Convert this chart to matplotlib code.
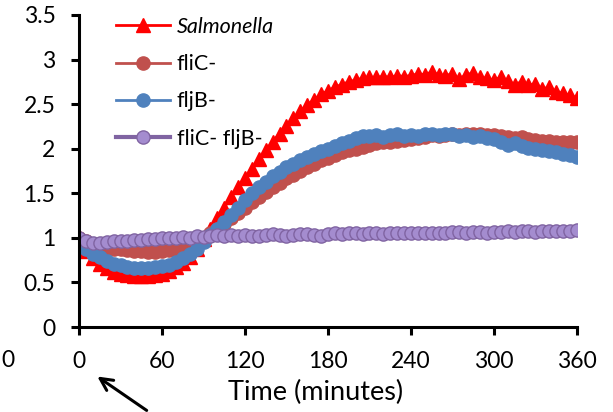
import matplotlib
matplotlib.use("Agg")
import matplotlib.pyplot as plt

plt.rcParams['font.family'] = ['Lato', 'DejaVu Sans']

# time points every 5 minutes, 0..360
time = list(range(0, 365, 5))

salmonella = [0.95, 0.85, 0.77, 0.71, 0.66, 0.62, 0.60, 0.58, 0.57, 0.57,
              0.57, 0.58, 0.59, 0.63, 0.67, 0.72, 0.79, 0.88, 0.99, 1.10,
              1.22, 1.34, 1.46, 1.57, 1.67, 1.77, 1.88, 1.98, 2.08, 2.17,
              2.26, 2.34, 2.42, 2.49, 2.55, 2.61, 2.65, 2.69, 2.72, 2.75,
              2.77, 2.79, 2.80, 2.80, 2.81, 2.80, 2.82, 2.81, 2.82, 2.84,
              2.83, 2.86, 2.83, 2.82, 2.84, 2.78, 2.83, 2.85, 2.80, 2.79,
              2.77, 2.80, 2.76, 2.72, 2.75, 2.71, 2.73, 2.67, 2.69, 2.64,
              2.62, 2.60, 2.57]

flic = [1.00, 0.96, 0.93, 0.91, 0.89, 0.88, 0.87, 0.86, 0.85, 0.85,
        0.84, 0.84, 0.85, 0.86, 0.87, 0.89, 0.92, 0.96, 1.00, 1.05,
        1.10, 1.16, 1.22, 1.28, 1.34, 1.40, 1.46, 1.52, 1.57, 1.62,
        1.67, 1.71, 1.75, 1.79, 1.83, 1.87, 1.90, 1.93, 1.96, 1.98,
        2.00, 2.02, 2.04, 2.06, 2.07, 2.08, 2.09, 2.10, 2.11, 2.12,
        2.13, 2.15, 2.14, 2.15, 2.16, 2.15, 2.16, 2.17, 2.16, 2.15,
        2.15, 2.14, 2.13, 2.12, 2.13, 2.11, 2.10, 2.09, 2.09, 2.08,
        2.08, 2.07, 2.07]

fljb = [0.93, 0.87, 0.82, 0.78, 0.74, 0.71, 0.69, 0.67, 0.66, 0.66,
        0.66, 0.67, 0.68, 0.70, 0.73, 0.77, 0.82, 0.88, 0.95, 1.03,
        1.10, 1.18, 1.26, 1.34, 1.43, 1.50, 1.57, 1.63, 1.69, 1.74,
        1.79, 1.83, 1.87, 1.91, 1.94, 1.97, 2.00, 2.03, 2.06, 2.09,
        2.12, 2.14, 2.14, 2.15, 2.13, 2.15, 2.16, 2.14, 2.15, 2.14,
        2.17, 2.17, 2.15, 2.16, 2.17, 2.14, 2.15, 2.13, 2.14, 2.12,
        2.11, 2.07, 2.04, 2.06, 2.03, 2.01, 2.00, 1.99, 1.97, 1.96,
        1.94, 1.93, 1.91]

double = [1.00, 0.96, 0.94, 0.94, 0.95, 0.96, 0.96, 0.97, 0.98, 0.98,
          0.99, 0.99, 1.00, 1.00, 1.00, 1.01, 1.00, 1.02, 1.01, 1.02,
          1.03, 1.02, 1.03, 1.02, 1.03, 1.02, 1.02, 1.03, 1.04, 1.03,
          1.02, 1.03, 1.04, 1.04, 1.03, 1.02, 1.04, 1.05, 1.04, 1.05,
          1.05, 1.04, 1.05, 1.05, 1.04, 1.05, 1.06, 1.05, 1.05, 1.06,
          1.06, 1.05, 1.06, 1.06, 1.07, 1.07, 1.06, 1.07, 1.07, 1.06,
          1.07, 1.07, 1.08, 1.07, 1.08, 1.08, 1.07, 1.08, 1.08, 1.08,
          1.08, 1.08, 1.09]

xticks = [0, 60, 120, 180, 240, 300, 360]
yticks = [0, 0.5, 1, 1.5, 2, 2.5, 3, 3.5]
ytick_labels = ['0', '0.5', '1', '1.5', '2', '2.5', '3', '3.5']

fig = plt.figure(figsize=(6.13, 4.12), dpi=100)
ax = fig.add_axes([0.129, 0.2063, 0.812, 0.7573])

ax.plot(time, salmonella, color='#FF0000', lw=2, marker='^', ms=9.5,
        label='Salmonella')
ax.plot(time, flic, color='#C0504D', lw=2, marker='o', ms=9.5, label='fliC-')
ax.plot(time, fljb, color='#4F81BD', lw=2, marker='o', ms=9.5, label='fljB-')
ax.plot(time, double, color='#8064A2', lw=3, marker='o', ms=9.5,
        markerfacecolor='#A48CCF', markeredgecolor='#8064A2', mew=1,
        label='fliC- fljB-')

ax.set_xlim(0, 360)
ax.set_ylim(0, 3.5)
ax.set_xticks(xticks)
ax.set_yticks(yticks)
ax.set_yticklabels(ytick_labels)
ax.tick_params(labelsize=16.5, width=2.2, length=6, pad=11, direction='out')

for side in ['top', 'right']:
    ax.spines[side].set_visible(False)
for side in ['left', 'bottom']:
    ax.spines[side].set_linewidth(2.2)

ax.set_xlabel('Time (minutes)', fontsize=19.5)
ax.xaxis.set_label_coords(0.476, -0.17)

leg = ax.legend(loc='upper left', bbox_to_anchor=(0.036, 1.056), frameon=False,
                fontsize=15.5, handlelength=2.5, labelspacing=0.8,
                handletextpad=0.3)
leg.get_texts()[0].set_style('italic')

# cropped label from a neighbouring panel, and the arrow under 0
fig.text(0.013, 0.124, '0', fontsize=16.5, ha='center', va='center')
ax.annotate('', xy=(0.155, 0.09), xycoords='figure fraction',
            xytext=(0.243, 0.0), textcoords='figure fraction',
            arrowprops=dict(arrowstyle='->', lw=2.2, color='black',
                            mutation_scale=22))

fig.savefig('out.png', dpi=100)
